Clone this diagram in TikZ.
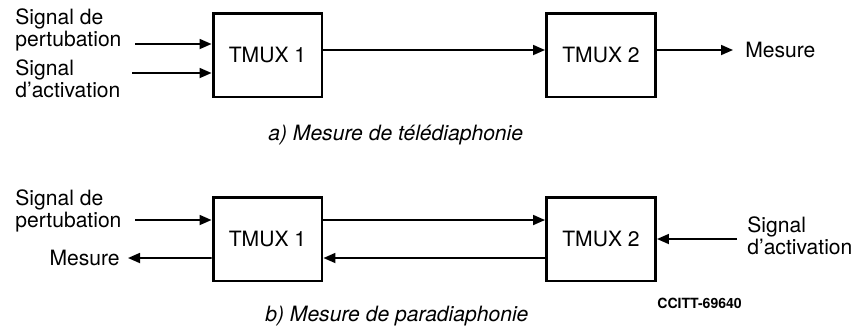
\documentclass[tikz,border=0pt]{standalone}
\usepackage{fontspec}
\setmainfont{TeX Gyre Heros}
\usetikzlibrary{arrows.meta}

\begin{document}
\begin{tikzpicture}[x=0.02cm,y=-0.02cm,>={Triangle[length=2.4mm,width=2mm]},
  every node/.style={font=\fontsize{12}{11}\selectfont},
  tmux/.style={draw,line width=1.7pt,minimum width=2.18cm,minimum height=1.68cm},
  sig/.style={->,line width=1pt},
  lbl/.style={align=left,inner sep=0pt},
  caption/.style={inner sep=0pt,font=\fontsize{12}{14}\selectfont\itshape}]
  \useasboundingbox (0,0) rectangle (857,329);
  % a) telediaphonie
  \node[tmux] (a1) at (267.5,55) {TMUX 1};
  \node[tmux] (a2) at (601,55) {TMUX 2};
  \node[lbl,anchor=west] (apert) at (15,30) {Signal de\\pertubation};
  \node[lbl,anchor=west] (aact) at (15,79) {Signal\\d’activation};
  \node[lbl,anchor=west] (ames) at (745,50) {Mesure};
  \coordinate (ap) at (135,44);
  \coordinate (aa) at (132,73);
  \coordinate (am) at (733,50);
  \draw[sig] (ap) -- (ap -| a1.west);
  \draw[sig] (aa) -- (aa -| a1.west);
  \draw[sig] ([yshift=1mm]a1.east) -- ([yshift=1mm]a2.west);
  \draw[sig] ([yshift=1mm]a2.east) -- (am);
  \node[caption,anchor=west] (acap) at (268,135) {a) Mesure de télédiaphonie};
  % b) paradiaphonie
  \node[tmux] (b1) at (267.5,239) {TMUX 1};
  \node[tmux] (b2) at (601,239) {TMUX 2};
  \node[lbl,anchor=west] (bpert) at (15,211) {Signal de\\pertubation};
  \node[lbl,anchor=east] (bmes) at (120,258) {Mesure};
  \node[lbl,anchor=west] (bact) at (747,236) {Signal\\d’activation};
  \coordinate (bp) at (135,220);
  \coordinate (bm) at (128,258);
  \coordinate (ba) at (737,239);
  \draw[sig] (bp) -- (bp -| b1.west);
  \draw[sig] ([yshift=3.8mm]b1.east) -- ([yshift=3.8mm]b2.west);
  \draw[sig] ([yshift=-3.8mm]b2.west) -- ([yshift=-3.8mm]b1.east);
  \draw[sig] ([yshift=-3.8mm]b1.west) -- (bm);
  \draw[sig] (ba) -- (b2.east);
  \node[caption,anchor=west] (bcap) at (265,316) {b) Mesure de paradiaphonie};
  \node[inner sep=0pt,anchor=west,font=\fontsize{8}{8}\selectfont\bfseries] (ref) at (657,303) {CCITT-69640};
\end{tikzpicture}
\end{document}
